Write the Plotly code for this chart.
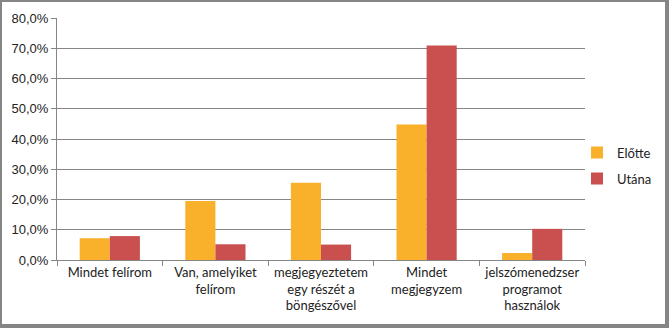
import plotly.graph_objects as go

categories = ["Mindet felírom", "Van, amelyiket<br>felírom", "megjegyeztetem<br>egy részét a<br>böngészővel",
              "Mindet<br>megjegyzem", "jelszómenedzser<br>programot<br>használok"]
elotte = [7.2, 19.5, 25.5, 44.8, 2.3]
utana = [7.9, 5.2, 5.1, 70.9, 10.3]
series_names = ["Előtte", "Utána"]
y_ticks = [0, 10, 20, 30, 40, 50, 60, 70, 80]
y_tick_labels = [f"{v},0%" for v in y_ticks]

W, H = 669, 328
L, R, T, B = 57, 84, 18, 68
pw, ph = W - L - R, H - T - B

def px(x):
    return (x - L) / pw

def py(y):
    return (H - B - y) / ph

fig = go.Figure()
fig.add_trace(go.Bar(x=categories, y=elotte, name=series_names[0], legendgroup="a",
                     marker_color="#F9B02B", marker_line_width=0))
fig.add_trace(go.Bar(x=categories, y=utana, name=series_names[1], legendgroup="b",
                     marker_color="#C9504F", marker_line_width=0))

gray = "#868686"
frame = "#858585"
shapes = [
    dict(type="rect", xref="paper", yref="paper", x0=px(0), x1=px(W), y0=py(0), y1=py(2), fillcolor=frame, line_width=0, layer="above"),
    dict(type="rect", xref="paper", yref="paper", x0=px(0), x1=px(2), y0=py(0), y1=py(H), fillcolor=frame, line_width=0, layer="above"),
    dict(type="rect", xref="paper", yref="paper", x0=px(665), x1=px(W), y0=py(0), y1=py(H), fillcolor=frame, line_width=0, layer="above"),
    dict(type="rect", xref="paper", yref="paper", x0=px(0), x1=px(W), y0=py(324), y1=py(H), fillcolor=frame, line_width=0, layer="above"),
]

fig.update_layout(
    width=W, height=H,
    margin=dict(l=L, r=R, t=T, b=B, autoexpand=False),
    paper_bgcolor="white", plot_bgcolor="white",
    barmode="group", bargap=0.43, bargroupgap=0,
    showlegend=True,
    legend=dict(x=px(577), xanchor="left", y=0.39, yanchor="middle",
                font=dict(family="Lato", size=13, color="#222"),
                itemwidth=30, traceorder="grouped", tracegroupgap=6,
                bgcolor="rgba(0,0,0,0)"),
    font=dict(family="Lato", size=13, color="#222"),
    shapes=shapes,
)
fig.update_xaxes(
    type="category", tickson="boundaries", ticks="outside", ticklen=5, tickcolor=gray,
    showline=True, linecolor=gray, linewidth=1, showgrid=False,
    tickfont=dict(family="Lato", size=13, color="#222"),
)
fig.update_yaxes(
    range=[0, 80], tickmode="array", tickvals=y_ticks, ticktext=y_tick_labels,
    ticks="outside", ticklen=5, tickcolor=gray,
    showline=True, linecolor=gray, linewidth=1,
    showgrid=True, gridcolor=gray, gridwidth=1, zeroline=False,
    tickfont=dict(family="Liberation Sans", size=13, color="#222"),
)

fig.write_html("out.html")
